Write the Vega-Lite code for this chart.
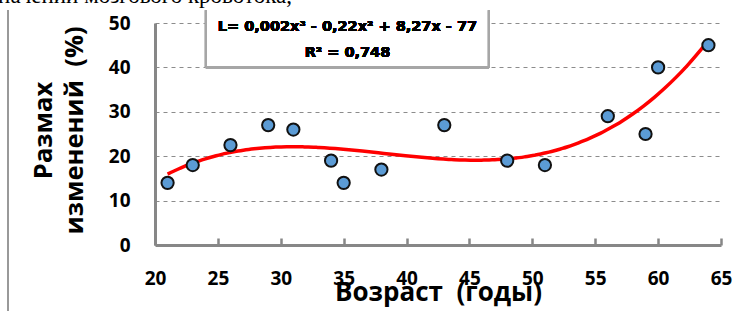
{
  "$schema": "https://vega.github.io/schema/vega-lite/v6.json",
  "width": 566,
  "height": 222,
  "autosize": {"type": "none"},
  "padding": {"left": 155, "top": 23, "right": 16, "bottom": 66},
  "background": "white",
  "title": {
    "text": "значений  мозгового  кровотока,",
    "font": "Liberation Serif",
    "fontSize": 23,
    "fontWeight": "normal",
    "color": "black",
    "anchor": "start",
    "frame": "group",
    "baseline": "alphabetic",
    "offset": -17,
    "dx": -166
  },
  "config": {
    "view": {"stroke": null},
    "font": "Open Sans"
  },
  "datasets": {
    "pts": [
      {"age": 21, "val": 14},
      {"age": 23, "val": 18},
      {"age": 26, "val": 22.5},
      {"age": 29, "val": 27},
      {"age": 31, "val": 26},
      {"age": 34, "val": 19},
      {"age": 35, "val": 14},
      {"age": 38, "val": 17},
      {"age": 43, "val": 27},
      {"age": 48, "val": 19},
      {"age": 51, "val": 18},
      {"age": 56, "val": 29},
      {"age": 59, "val": 25},
      {"age": 60, "val": 40},
      {"age": 64, "val": 45}
    ]
  },
  "data": {"name": "pts"},
  "layer": [
    {
      "mark": {"type": "point", "opacity": 0},
      "encoding": {
        "x": {
          "field": "age", "type": "quantitative",
          "scale": {"domain": [20, 65], "nice": false, "zero": false},
          "axis": {
            "values": [20, 25, 30, 35, 40, 45, 50, 55, 60, 65],
            "grid": true, "gridDash": [0, 215, 7, 400], "gridColor": "#878787", "gridWidth": 2.5,
            "domainColor": "#878787", "domainWidth": 3,
            "ticks": false,
            "labelFont": "Open Sans", "labelFontWeight": "bold", "labelFontSize": 19, "labelColor": "black",
            "labelPadding": 24, "labelFlush": false,
            "title": "Возраст \u00a0(годы)",
            "titleFont": "Open Sans", "titleFontWeight": "bold", "titleFontSize": 26, "titleColor": "black",
            "titlePadding": -9
          }
        },
        "y": {
          "field": "val", "type": "quantitative",
          "scale": {"domain": [0, 50], "nice": false},
          "axis": {
            "values": [0, 10, 20, 30, 40, 50],
            "grid": true, "gridDash": [4, 4], "gridColor": "#8c8c8c", "gridWidth": 1.2,
            "domainColor": "#878787", "domainWidth": 3,
            "ticks": false,
            "labelFont": "Open Sans", "labelFontWeight": "bold", "labelFontSize": 19, "labelColor": "black",
            "labelPadding": 25, "labelFlush": false,
            "title": ["Размах", "изменений \u00a0(%)"],
            "titleFont": "Open Sans", "titleFontWeight": "bold", "titleFontSize": 25.5, "titleColor": "black",
            "titleLineHeight": 31,
            "titlePadding": 21,
            "titleY": 107
          }
        }
      }
    },
    {
      "mark": {"type": "rect", "fill": "white", "clip": false},
      "encoding": {
        "x": {"datum": 24.05, "type": "quantitative"},
        "x2": {"datum": 46.55},
        "y": {"datum": 39.95, "type": "quantitative"},
        "y2": {"datum": 52.9}
      }
    },
    {
      "mark": {"type": "rule", "color": "#a6a6a6", "strokeWidth": 2, "clip": false},
      "encoding": {
        "x": {"datum": 24.05, "type": "quantitative"},
        "y": {"datum": 39.95, "type": "quantitative"},
        "y2": {"datum": 52.9}
      }
    },
    {
      "mark": {"type": "rule", "color": "#a6a6a6", "strokeWidth": 2, "clip": false},
      "encoding": {
        "x": {"datum": 46.55, "type": "quantitative"},
        "y": {"datum": 39.95, "type": "quantitative"},
        "y2": {"datum": 52.9}
      }
    },
    {
      "mark": {"type": "rule", "color": "#a6a6a6", "strokeWidth": 2, "clip": false},
      "encoding": {
        "x": {"datum": 24.05, "type": "quantitative"},
        "x2": {"datum": 46.55},
        "y": {"datum": 39.95, "type": "quantitative"}
      }
    },
    {
      "mark": {"type": "rule", "color": "#999999", "strokeWidth": 1.5, "clip": false},
      "encoding": {
        "x": {"datum": 8.32, "type": "quantitative"},
        "y": {"datum": -15, "type": "quantitative"},
        "y2": {"datum": 52.9}
      }
    },
    {
      "transform": [
        {"regression": "val", "on": "age", "method": "poly", "order": 3, "extent": [21, 64]}
      ],
      "mark": {"type": "line", "color": "#ff0000", "strokeWidth": 3.5, "interpolate": "monotone"},
      "encoding": {
        "x": {"field": "age", "type": "quantitative"},
        "y": {"field": "val", "type": "quantitative"}
      }
    },
    {
      "mark": {"type": "point", "filled": true, "fill": "#5b9bd5", "stroke": "#111111", "strokeWidth": 2, "size": 150, "opacity": 1},
      "encoding": {
        "x": {"field": "age", "type": "quantitative"},
        "y": {"field": "val", "type": "quantitative"}
      }
    },
    {
      "mark": {"type": "text", "font": "DejaVu Sans", "fontWeight": "bold", "fontSize": 14.5, "color": "black", "baseline": "middle", "align": "center", "clip": false},
      "encoding": {
        "x": {"datum": 35.3, "type": "quantitative"},
        "y": {"datum": 49.1, "type": "quantitative"},
        "text": {"value": "L= 0,002x³ - 0,22x² + 8,27x - 77"}
      }
    },
    {
      "mark": {"type": "text", "font": "DejaVu Sans", "fontWeight": "bold", "fontSize": 14.5, "color": "black", "baseline": "middle", "align": "center", "clip": false},
      "encoding": {
        "x": {"datum": 35.3, "type": "quantitative"},
        "y": {"datum": 43.2, "type": "quantitative"},
        "text": {"value": "R² = 0,748"}
      }
    }
  ]
}
